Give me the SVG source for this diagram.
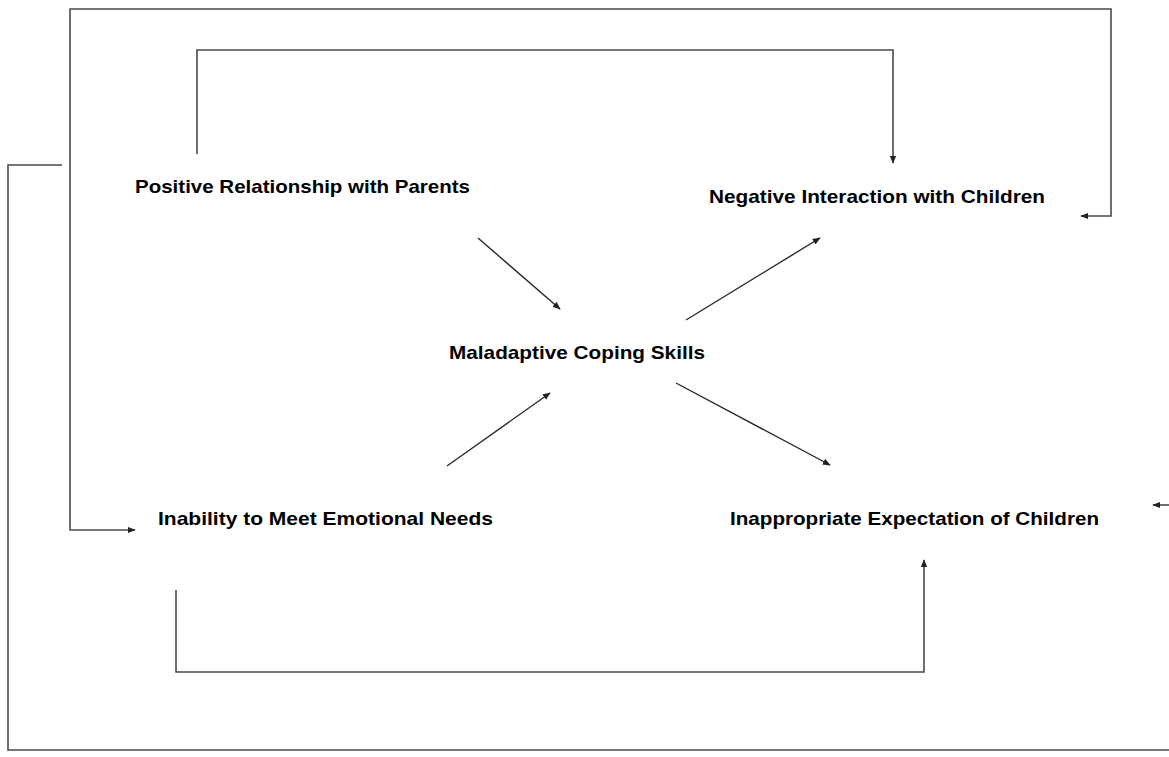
<svg xmlns="http://www.w3.org/2000/svg" width="1169" height="757" viewBox="0 0 1169 757">
<defs>
<style>
.c{fill:none;stroke:#4a4a4a;stroke-width:1.6}
.d{fill:none;stroke:#2a2a2a;stroke-width:1.4}
.t{font-family:"Liberation Sans",Arial,sans-serif;font-weight:bold;font-size:19px;fill:#000}
</style>
<marker id="a" viewBox="0 0 10 10" refX="9" refY="5" markerWidth="8" markerHeight="8" markerUnits="userSpaceOnUse" orient="auto-start-reverse">
<path d="M0,1 L10,5 L0,9 Z" fill="#222"/>
</marker>
</defs>
<rect width="1169" height="757" fill="#fff"/>
<g id="connectors">
<path class="c" d="M62,165 H8 V750 H1169" stroke="#8a8a8a"/>
<path class="c" d="M1169,505 H1153" marker-end="url(#a)"/>
<path class="c" d="M1081,216 H1111 V9 H70 V530 H135" marker-start="url(#a)" marker-end="url(#a)"/>
<path class="c" d="M197,154 V50 H893 V163" marker-end="url(#a)"/>
<path class="c" d="M176,590 V672 H924 V560" marker-end="url(#a)"/>
<path class="d" d="M478,238 L560,309" marker-end="url(#a)"/>
<path class="d" d="M686,320 L820,238" marker-end="url(#a)"/>
<path class="d" d="M447,466 L550,393" marker-end="url(#a)"/>
<path class="d" d="M676,383 L830,465" marker-end="url(#a)"/>
</g>
<g id="n1"><text class="t" x="135" y="193" textLength="335" lengthAdjust="spacingAndGlyphs">Positive Relationship with Parents</text></g>
<g id="n2"><text class="t" x="709" y="203" textLength="336" lengthAdjust="spacingAndGlyphs">Negative Interaction with Children</text></g>
<g id="n3"><text class="t" x="449" y="359" textLength="256" lengthAdjust="spacingAndGlyphs">Maladaptive  Coping Skills</text></g>
<g id="n4"><text class="t" x="158" y="525" textLength="335" lengthAdjust="spacingAndGlyphs">Inability to Meet Emotional Needs</text></g>
<g id="n5"><text class="t" x="730" y="525" textLength="369" lengthAdjust="spacingAndGlyphs">Inappropriate Expectation of Children</text></g>
</svg>
